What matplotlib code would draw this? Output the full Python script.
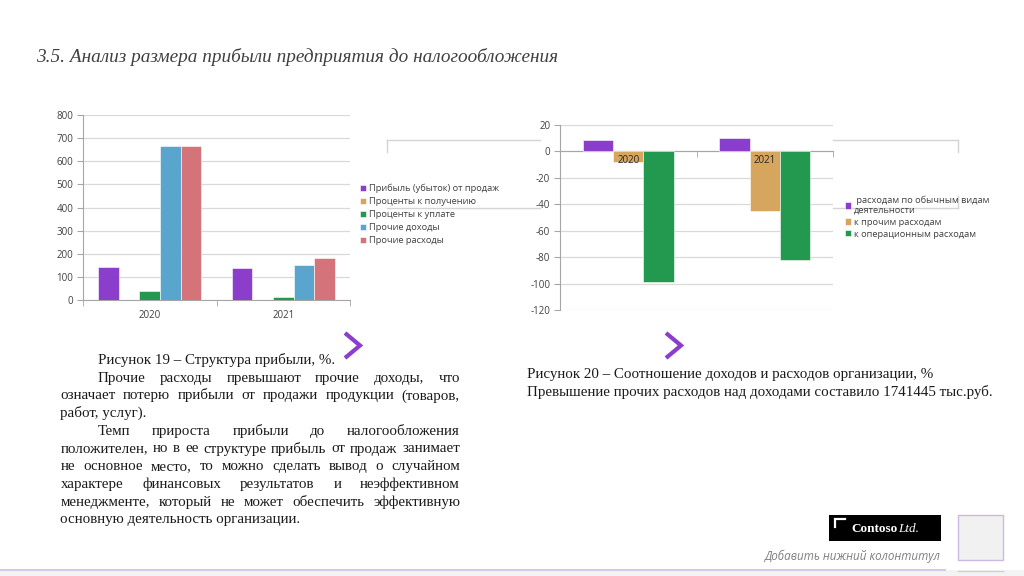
import matplotlib
matplotlib.use("Agg")
import matplotlib.pyplot as plt
from matplotlib.lines import Line2D
from matplotlib.patches import Rectangle
import numpy as np

plt.rcParams['axes.unicode_minus'] = False

# ---------------- data ----------------
years = ['2020', '2021']
profit_sales = [143, 140]
interest_recv = [1, 2]
interest_paid = [40, 12]
other_income = [665, 150]
other_expense = [668, 183]
chart1_labels = ['Прибыль (убыток) от продаж', 'Проценты к получению',
                 'Проценты к уплате', 'Прочие доходы', 'Прочие расходы']

ratio_ordinary = [8, 10]
ratio_other = [-8, -45]
ratio_operational = [-99, -82]
chart2_labels = [' расходам по обычным видам\nдеятельности', 'к прочим расходам',
                 'к операционным расходам']

title = '3.5. Анализ размера прибыли предприятия до налогообложения'
left_lines = [
    ('Рисунок 19 – Структура прибыли, %.', True, False),
    ('Прочие расходы превышают прочие доходы, что', True, True),
    ('означает потерю прибыли от продажи продукции (товаров,', False, True),
    ('работ, услуг).', False, False),
    ('Темп прироста прибыли до налогообложения', True, True),
    ('положителен, но в ее структуре прибыль от продаж занимает', False, True),
    ('не основное место, то можно сделать вывод о случайном', False, True),
    ('характере финансовых результатов и неэффективном', False, True),
    ('менеджменте, который не может обеспечить эффективную', False, True),
    ('основную деятельность организации.', False, False),
]
right_lines = [
    'Рисунок 20 – Соотношение доходов и расходов организации, %',
    'Превышение прочих расходов над доходами составило 1741445 тыс.руб.',
]

colors = ['#8B3DCB', '#D6A65E', '#22994F', '#5AA5CD', '#D5737B']
W, H = 1024, 576
SANS = ['Open Sans', 'DejaVu Sans']
SERIF = ['Liberation Serif', 'DejaVu Serif']

fig = plt.figure(figsize=(W / 100, H / 100), dpi=100)
fig.patch.set_facecolor('white')
renderer = fig.canvas.get_renderer()


def fx(x):
    return x / W


def fy(y):
    return 1 - y / H


def frame_axes(x0, y0, x1, y1):
    return fig.add_axes([fx(x0), fy(y1), (x1 - x0) / W, (y1 - y0) / H])


grid_c = '#d9d9d9'
axis_c = '#a6a6a6'
tick_c = '#404040'

# ---------------- decorations behind charts ----------------
ov = '#d4d4d4'
for (xa, xb, ya, yb) in [(387, 540, 140, 140), (833, 958, 140, 140),
                         (387, 540, 208, 208), (833, 958, 208, 208),
                         (387, 387, 140, 152), (958, 958, 140, 152),
                         (958, 958, 196, 208)]:
    fig.add_artist(Line2D([fx(xa), fx(xb)], [fy(ya), fy(yb)], color=ov, lw=1.0, zorder=0))

# ---------------- chart 1 ----------------
ax1 = frame_axes(83, 115, 350, 300)
series1 = [profit_sales, interest_recv, interest_paid, other_income, other_expense]
x = np.arange(len(years))
bw1 = 0.154
for i, (vals, c, lab) in enumerate(zip(series1, colors, chart1_labels)):
    ax1.bar(x + (i - 2) * bw1, vals, width=bw1, color=c, edgecolor='white',
            linewidth=0.4, label=lab, zorder=3)
ax1.set_xlim(-0.5, 1.5)
ax1.set_ylim(0, 800)
ax1.set_yticks(np.arange(0, 801, 100))
ax1.yaxis.grid(True, color=grid_c, lw=0.9, zorder=0)
ax1.set_axisbelow(True)
for s in ['top', 'right']:
    ax1.spines[s].set_visible(False)
ax1.spines['left'].set_color(axis_c)
ax1.spines['bottom'].set_color(axis_c)
ax1.set_xticks(x)
ax1.set_xticklabels(years)
ax1.set_xticks([-0.5, 0.5, 1.5], minor=True)
ax1.tick_params(axis='x', which='major', length=0, pad=7, labelsize=7, labelcolor=tick_c)
ax1.tick_params(axis='x', which='minor', length=4, color=axis_c, direction='out')
ax1.tick_params(axis='y', length=4, color=axis_c, labelsize=7, labelcolor=tick_c, pad=3)
for lbl in ax1.get_xticklabels() + ax1.get_yticklabels():
    lbl.set_family(SANS)
ax1.patch.set_alpha(0)

leg1 = ax1.legend(loc='center left', bbox_to_anchor=(fx(360), fy(214.5)),
                  bbox_transform=fig.transFigure, frameon=False,
                  handlelength=0.65, handleheight=0.65, handletextpad=0.35,
                  labelspacing=0.42, borderpad=0, borderaxespad=0,
                  prop={'family': SANS, 'size': 6.7})
for t in leg1.get_texts():
    t.set_color(tick_c)

# ---------------- chart 2 ----------------
ax2 = frame_axes(560, 124.6, 833, 310)
series2 = [ratio_ordinary, ratio_other, ratio_operational]
bw2 = 0.223
for i, (vals, c, lab) in enumerate(zip(series2, colors[:3], chart2_labels)):
    ax2.bar(x + (i - 1) * bw2, vals, width=bw2, color=c, edgecolor='white',
            linewidth=0.4, label=lab, zorder=3)
ax2.set_xlim(-0.5, 1.5)
ax2.set_ylim(-120, 20)
ax2.set_yticks(np.arange(-120, 21, 20))
ax2.yaxis.grid(True, color=grid_c, lw=0.9, zorder=0)
ax2.set_axisbelow(True)
for s in ['top', 'right']:
    ax2.spines[s].set_visible(False)
ax2.spines['left'].set_color(axis_c)
ax2.spines['bottom'].set_color(axis_c)
ax2.spines['bottom'].set_position(('data', 0))
ax2.set_xticks(x)
ax2.set_xticklabels(['', ''])
ax2.set_xticks([-0.5, 0.5, 1.5], minor=True)
ax2.tick_params(axis='x', which='major', length=0)
ax2.tick_params(axis='x', which='minor', length=4, color=axis_c, direction='out')
ax2.tick_params(axis='y', length=4, color=axis_c, labelsize=7, labelcolor=tick_c, pad=3)
for lbl in ax2.get_yticklabels():
    lbl.set_family(SANS)
# category labels sit just under the zero axis, drawn over the bars
for xi, yr in zip(x, years):
    ax2.annotate(yr, (xi, 0), xytext=(0, -3), textcoords='offset points',
                 ha='center', va='top', family=SANS, fontsize=7, color='#262626', zorder=6)
ax2.patch.set_alpha(0)

leg2 = ax2.legend(loc='center left', bbox_to_anchor=(fx(845), fy(217)),
                  bbox_transform=fig.transFigure, frameon=False,
                  handlelength=0.65, handleheight=0.65, handletextpad=0.35,
                  labelspacing=0.3, borderpad=0, borderaxespad=0,
                  prop={'family': SANS, 'size': 6.7})
for t in leg2.get_texts():
    t.set_color(tick_c)

# ---------------- title ----------------
fig.text(fx(36), fy(62), title, family=SERIF, style='italic', fontsize=13.9,
         color='#404040', va='baseline', ha='left')

# ---------------- body text ----------------
body_kw = dict(family=SERIF, fontsize=10.8, color='#1a1a1a', va='baseline', ha='left')


def put_line(text, x0, x1, y, justify):
    if not justify:
        fig.text(fx(x0), fy(y), text, **body_kw)
        return
    words = text.split()
    objs, widths = [], []
    for w in words:
        t = fig.text(0, 0, w, **body_kw)
        widths.append(t.get_window_extent(renderer).width)
        objs.append(t)
    gap = (x1 - x0 - sum(widths)) / (len(words) - 1)
    xc = x0
    for t, wd in zip(objs, widths):
        t.set_position((fx(xc), fy(y)))
        xc += wd + gap


y0, dy = 364, 17.7
for k, (txt, indent, just) in enumerate(left_lines):
    put_line(txt, 98 if indent else 60.5, 460, y0 + k * dy, just)

for k, txt in enumerate(right_lines):
    put_line(txt, 527, 991, 378 + k * 18, False)

# ---------------- chevrons ----------------
chev_c = '#8B3DCB'
for cx in (345, 666):
    fig.add_artist(Line2D([fx(cx), fx(cx + 15), fx(cx)], [fy(333), fy(345.5), fy(358)],
                          color=chev_c, lw=3.0, solid_capstyle='butt', solid_joinstyle='miter'))

# ---------------- footer ----------------
fig.add_artist(Rectangle((0, 0), 1, fy(570), transform=fig.transFigure,
                         facecolor='#f3f3f3', edgecolor='none', zorder=0))
fig.add_artist(Line2D([0, fx(945)], [fy(569.5), fy(569.5)], color='#d6c8ea', lw=1.5))
fig.add_artist(Line2D([fx(958), fx(1003)], [fy(571), fy(571)], color='#d0d0d0', lw=1.0))
fig.add_artist(Rectangle((fx(958), fy(560)), 45 / W, 45 / H, transform=fig.transFigure,
                         facecolor='#f1f1f1', edgecolor='#cbb9e3', lw=1.0))
fig.add_artist(Rectangle((fx(829), fy(541)), 112 / W, 26 / H, transform=fig.transFigure,
                         facecolor='black', edgecolor='none'))
fig.add_artist(Line2D([fx(835), fx(835), fx(845)], [fy(527), fy(519), fy(519)],
                      color='white', lw=1.6, solid_joinstyle='miter'))
fig.text(fx(851), fy(532), 'Contoso', family=SERIF, fontsize=9.5, weight='bold',
         color='white', va='baseline', ha='left')
fig.text(fx(898), fy(532), 'Ltd.', family=SERIF, fontsize=9.5, style='italic',
         color='white', va='baseline', ha='left')
fig.text(fx(941), fy(560), 'Добавить нижний колонтитул', family=SANS, fontsize=8.4,
         style='italic', color='#7f7f7f', va='baseline', ha='right')

fig.savefig('out.png', dpi=100, facecolor='white')
